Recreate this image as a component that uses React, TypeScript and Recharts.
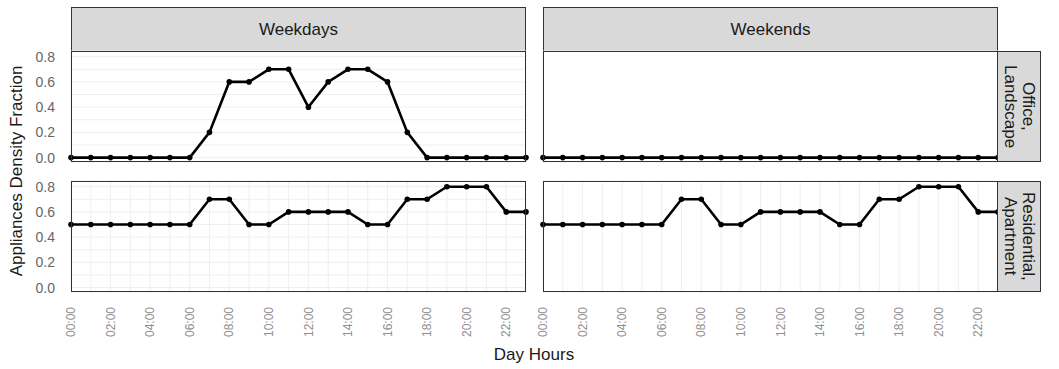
import { LineChart, Line, XAxis, YAxis, CartesianGrid } from "recharts";

const HOURS = [0, 1, 2, 3, 4, 5, 6, 7, 8, 9, 10, 11, 12, 13, 14, 15, 16, 17, 18, 19, 20, 21, 22, 23];
const HOUR_LABELS = [
  "00:00", "", "02:00", "", "04:00", "", "06:00", "", "08:00", "", "10:00", "",
  "12:00", "", "14:00", "", "16:00", "", "18:00", "", "20:00", "", "22:00", "",
];
const Y_TICKS = [0, 0.1, 0.2, 0.3, 0.4, 0.5, 0.6, 0.7, 0.8];
const Y_LABELS = ["0.0", "", "0.2", "", "0.4", "", "0.6", "", "0.8"];

const COLUMNS = ["Weekdays", "Weekends"];
const ROWS = [["Office,", "Landscape"], ["Residential,", "Apartment"]];

const OFFICE_WEEKDAYS = [0, 0, 0, 0, 0, 0, 0, 0.2, 0.6, 0.6, 0.7, 0.7, 0.4, 0.6, 0.7, 0.7, 0.6, 0.2, 0, 0, 0, 0, 0, 0];
const OFFICE_WEEKENDS = [0, 0, 0, 0, 0, 0, 0, 0, 0, 0, 0, 0, 0, 0, 0, 0, 0, 0, 0, 0, 0, 0, 0, 0];
const RESIDENTIAL_WEEKDAYS = [0.5, 0.5, 0.5, 0.5, 0.5, 0.5, 0.5, 0.7, 0.7, 0.5, 0.5, 0.6, 0.6, 0.6, 0.6, 0.5, 0.5, 0.7, 0.7, 0.8, 0.8, 0.8, 0.6, 0.6];
const RESIDENTIAL_WEEKENDS = [0.5, 0.5, 0.5, 0.5, 0.5, 0.5, 0.5, 0.7, 0.7, 0.5, 0.5, 0.6, 0.6, 0.6, 0.6, 0.5, 0.5, 0.7, 0.7, 0.8, 0.8, 0.8, 0.6, 0.6];

const FONT = "'Liberation Sans', Arial, sans-serif";
const PW = 455;
const PH = 111;
const COL_X = [71, 543];
const ROW_Y = [51, 181];
const Y_AXIS_W = 60;
const X_AXIS_H = 55;
const PAD = 10;

function HourTick({ x, y, payload }: any) {
  const label = HOUR_LABELS[payload.value] ?? "";
  return (
    <text
      x={0}
      y={0}
      dy="0.35em"
      textAnchor="end"
      transform={`translate(${x},${y}) rotate(-90)`}
      fontSize={12}
      fill="#8f8f8f"
      fontFamily={FONT}
    >
      {label}
    </text>
  );
}

type PanelProps = {
  values: number[];
  col: number;
  row: number;
};

function Panel({ values, col, row }: PanelProps) {
  const showY = col === 0;
  const showX = row === 1;
  const xh = showX ? X_AXIS_H : 0;
  const data = HOURS.map((h, i) => ({ h, v: values[i] }));
  const left = COL_X[col];
  const top = ROW_Y[row];
  const w = PW + Y_AXIS_W + PAD;
  const h = PH + xh + PAD * 2;

  return (
    <>
      <div style={{ position: "absolute", left: left - Y_AXIS_W, top: top - PAD, width: w, height: h }}>
        <LineChart
          width={w}
          height={h}
          data={data}
          margin={{ top: PAD, right: PAD, bottom: PAD, left: 0 }}
        >
          <CartesianGrid stroke="#efefef" strokeWidth={1} />
          <XAxis
            dataKey="h"
            type="number"
            domain={[0, 23]}
            ticks={HOURS}
            interval={0}
            height={xh}
            axisLine={false}
            tickLine={false}
            tickSize={6}
            tickMargin={9}
            tick={showX ? <HourTick /> : false}
          />
          <YAxis
            type="number"
            domain={[-0.035, 0.845]}
            ticks={Y_TICKS}
            interval={0}
            width={Y_AXIS_W}
            axisLine={false}
            tickLine={false}
            tickSize={6}
            tickMargin={10}
            tick={showY ? { fontSize: 14, fill: "#666", fontFamily: FONT } : false}
            tickFormatter={(v: number) => Y_LABELS[Y_TICKS.indexOf(v)] ?? ""}
          />
          <Line
            type="linear"
            dataKey="v"
            stroke="#000"
            strokeWidth={2.6}
            dot={{ r: 2.8, fill: "#000", stroke: "#000", strokeWidth: 0 }}
            activeDot={false}
            isAnimationActive={false}
          />
        </LineChart>
      </div>
      <div
        style={{
          position: "absolute",
          left,
          top,
          width: PW,
          height: PH,
          border: "1px solid #333",
          boxSizing: "border-box",
          pointerEvents: "none",
        }}
      />
    </>
  );
}

const stripStyle = {
  position: "absolute" as const,
  background: "#d9d9d9",
  border: "1px solid #333",
  boxSizing: "border-box" as const,
  color: "#1a1a1a",
  fontFamily: FONT,
  fontSize: 17,
  display: "flex",
  alignItems: "center",
  justifyContent: "center",
};

export default function App() {
  const panels = [
    [OFFICE_WEEKDAYS, OFFICE_WEEKENDS],
    [RESIDENTIAL_WEEKDAYS, RESIDENTIAL_WEEKENDS],
  ];
  return (
    <div
      style={{
        position: "absolute",
        left: 0,
        top: 0,
        width: 1059,
        height: 369,
        background: "#fff",
        fontFamily: FONT,
      }}
    >
      {COLUMNS.map((c, i) => (
        <div key={c} style={{ ...stripStyle, left: COL_X[i], top: 7, width: PW, height: 45 }}>
          {c}
        </div>
      ))}
      {panels.map((rowVals, row) =>
        rowVals.map((vals, col) => <Panel key={`${row}-${col}`} values={vals} col={col} row={row} />)
      )}
      {ROWS.map((r, i) => (
        <div
          key={r[0]}
          style={{
            ...stripStyle,
            left: COL_X[1] + PW - 1,
            top: ROW_Y[i],
            width: 44,
            height: PH,
            writingMode: "vertical-rl",
            textAlign: "center",
            lineHeight: "18px",
          }}
        >
          {r[0]}
          <br />
          {r[1]}
        </div>
      ))}
      <div
        style={{
          position: "absolute",
          left: 17,
          top: 171,
          transform: "translate(-50%, -50%) rotate(-90deg)",
          whiteSpace: "nowrap",
          fontSize: 17,
          color: "#1a1a1a",
        }}
      >
        Appliances Density Fraction
      </div>
      <div
        style={{
          position: "absolute",
          left: 534,
          top: 355,
          transform: "translate(-50%, -50%)",
          whiteSpace: "nowrap",
          fontSize: 17,
          color: "#1a1a1a",
        }}
      >
        Day Hours
      </div>
    </div>
  );
}
